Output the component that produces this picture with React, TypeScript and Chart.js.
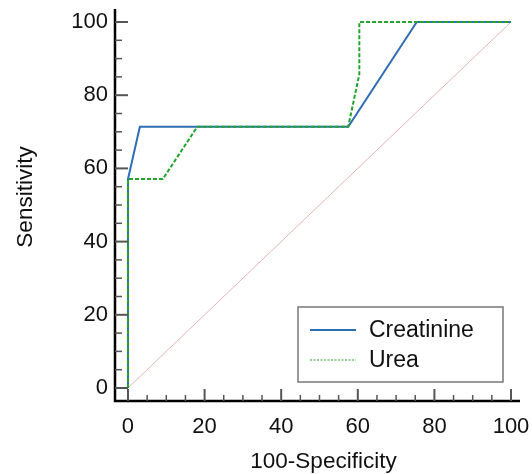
import React, { useEffect, useRef } from "react";
import { Chart, registerables } from "chart.js";

Chart.register(...registerables);

const creatinineX = [0, 0, 3.1, 57.5, 75.4, 100];
const creatinineY = [0, 57.1, 71.4, 71.4, 100, 100];
const ureaX = [0, 0, 9.1, 18.1, 57.5, 60.4, 60.4, 100];
const ureaY = [0, 57.1, 57.1, 71.4, 71.4, 85.7, 100, 100];
const diagonalX = [0, 100];
const diagonalY = [0, 100];
const majorTicks = [0, 20, 40, 60, 80, 100];
const minorTicks = [5, 10, 15, 25, 30, 35, 45, 50, 55, 65, 70, 75, 85, 90, 95];
const xTitle = "100-Specificity";
const yTitle = "Sensitivity";
const seriesLabels = ["Creatinine", "Urea"];

const FONT = '"Liberation Sans", Arial, Helvetica, sans-serif';

const toPoints = (xs: number[], ys: number[]) => xs.map((x, i) => ({ x, y: ys[i] }));

const axesPlugin = {
  id: "medcalcAxes",
  afterDatasetsDraw(chart: any) {
    const { ctx, chartArea, scales } = chart;
    const xs = scales.x;
    const ys = scales.y;
    ctx.save();
    // axis lines
    ctx.strokeStyle = "#000";
    ctx.lineWidth = 2.5;
    ctx.beginPath();
    ctx.moveTo(chartArea.left, chartArea.top);
    ctx.lineTo(chartArea.left, chartArea.bottom);
    ctx.lineTo(chartArea.right, chartArea.bottom);
    ctx.stroke();
    // ticks
    ctx.strokeStyle = "#555";
    ctx.lineWidth = 2;
    const drawTicks = (vals: number[], len: number) => {
      vals.forEach((v) => {
        const py = ys.getPixelForValue(v);
        ctx.beginPath();
        ctx.moveTo(chartArea.left, py);
        ctx.lineTo(chartArea.left + len, py);
        ctx.stroke();
        const px = xs.getPixelForValue(v);
        ctx.beginPath();
        ctx.moveTo(px, chartArea.bottom);
        ctx.lineTo(px, chartArea.bottom - len + 1);
        ctx.stroke();
      });
    };
    drawTicks(majorTicks, 13);
    ctx.lineWidth = 1.5;
    drawTicks(minorTicks, 7);

    // titles
    ctx.fillStyle = "#111";
    ctx.font = `22.5px ${FONT}`;
    ctx.textAlign = "center";
    ctx.textBaseline = "alphabetic";
    ctx.fillText(xTitle, (xs.getPixelForValue(0) + xs.getPixelForValue(100)) / 2 + 4, 468);
    ctx.save();
    ctx.translate(32, (ys.getPixelForValue(0) + ys.getPixelForValue(100)) / 2 - 8);
    ctx.rotate(-Math.PI / 2);
    ctx.fillText(yTitle, 0, 0);
    ctx.restore();

    // legend
    const bx = 298, by = 307, bw = 205, bh = 75;
    ctx.fillStyle = "#fff";
    ctx.fillRect(bx, by, bw, bh);
    ctx.strokeStyle = "#777";
    ctx.lineWidth = 1.5;
    ctx.strokeRect(bx, by, bw, bh);
    ctx.font = `23px ${FONT}`;
    const items = chart.data.datasets.filter((d: any) => seriesLabels.includes(d.label));
    items.forEach((d: any, i: number) => {
      const y = by + 23 + i * 30;
      ctx.strokeStyle = d.borderColor;
      ctx.lineWidth = d.label === "Urea" ? 1.2 : 1.8;
      ctx.setLineDash(d.borderDash ? [2, 1.5] : []);
      ctx.beginPath();
      ctx.moveTo(bx + 12, y);
      ctx.lineTo(bx + 58, y);
      ctx.stroke();
      ctx.setLineDash([]);
      ctx.fillStyle = "#111";
      ctx.textAlign = "left";
      ctx.textBaseline = "middle";
      ctx.fillText(d.label, bx + 71, y + 1);
    });
    ctx.restore();
  },
};

export default function App() {
  const ref = useRef<HTMLCanvasElement | null>(null);
  useEffect(() => {
    if (!ref.current) return;
    const setTicks = (scale: any) => {
      scale.ticks = majorTicks.map((v) => ({ value: v }));
    };
    const chart = new Chart(ref.current, {
      type: "line",
      data: {
        datasets: [
          {
            label: "diagonal",
            data: toPoints(diagonalX, diagonalY),
            borderColor: "#e6b3b3",
            borderWidth: 1,
            pointRadius: 0,
            order: 3,
          },
          {
            label: seriesLabels[0],
            data: toPoints(creatinineX, creatinineY),
            borderColor: "#2f6db5",
            borderWidth: 2,
            pointRadius: 0,
            order: 2,
          },
          {
            label: seriesLabels[1],
            data: toPoints(ureaX, ureaY),
            borderColor: "#22a52a",
            borderWidth: 2,
            borderDash: [4, 2],
            pointRadius: 0,
            order: 1,
          },
        ],
      },
      options: {
        animation: false,
        responsive: true,
        maintainAspectRatio: false,
        layout: { padding: { top: 9, right: 12, left: 0, bottom: 0 } },
        plugins: { legend: { display: false }, tooltip: { enabled: false } },
        scales: {
          x: {
            type: "linear",
            min: -3.39,
            max: 102.35,
            grid: { display: false, drawTicks: false, tickLength: 0 },
            border: { display: false },
            afterBuildTicks: setTicks,
            afterFit: (s: any) => {
              s.height = 73;
              s.paddingLeft = 0;
              s.paddingRight = 0;
            },
            ticks: {
              padding: 13,
              color: "#111",
              font: { family: FONT, size: 22 },
              maxRotation: 0,
            },
          },
          y: {
            type: "linear",
            min: -3.55,
            max: 103.55,
            grid: { display: false, drawTicks: false, tickLength: 0 },
            border: { display: false },
            afterBuildTicks: setTicks,
            afterFit: (s: any) => {
              s.width = 115;
              s.paddingTop = 0;
              s.paddingBottom = 0;
            },
            ticks: {
              padding: 7,
              color: "#111",
              font: { family: FONT, size: 22 },
            },
          },
        },
      },
      plugins: [axesPlugin],
    });
    return () => chart.destroy();
  }, []);
  return (
    <div style={{ position: "fixed", left: 0, top: 0, width: 532, height: 474, background: "#fff" }}>
      <canvas ref={ref} />
    </div>
  );
}
